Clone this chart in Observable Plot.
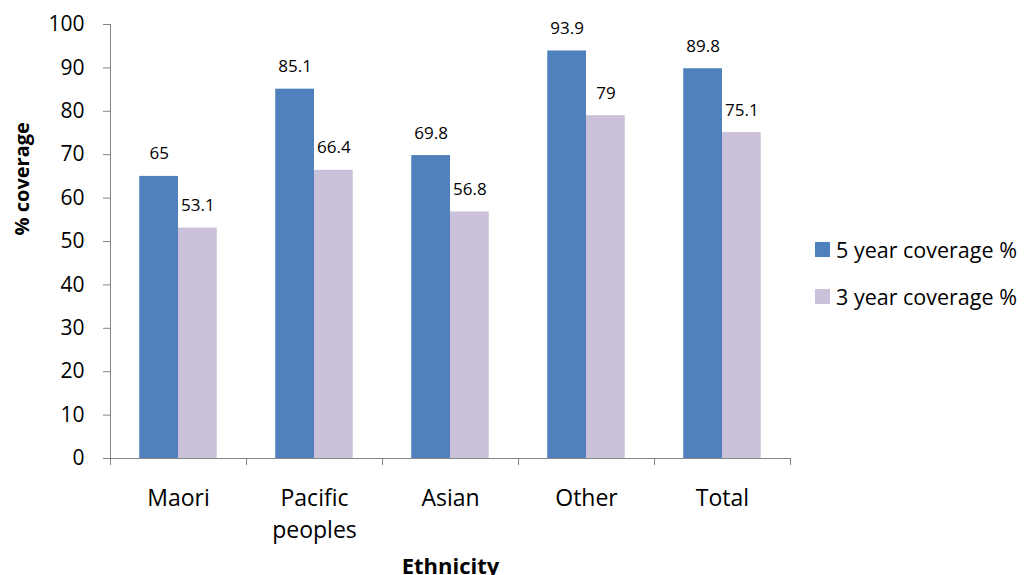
<!DOCTYPE html>
<html>
<head>
<meta charset="utf-8">
<script src="https://cdn.jsdelivr.net/npm/d3@7"></script>
<script src="https://cdn.jsdelivr.net/npm/@observablehq/plot@0.6"></script>
<style>
  html, body { margin: 0; padding: 0; background: #ffffff; }
  #chart { position: relative; width: 1034px; height: 575px; font-family: "Open Sans", sans-serif; color: #000; }
  #chart svg { display: block; overflow: visible; }
  .legend { position: absolute; left: 815px; top: 0; }
  .legend .row { position: absolute; left: 0; height: 30px; display: flex; align-items: center; white-space: nowrap; font-size: 21.5px; }
  .legend .swatch { width: 15px; height: 15px; margin-right: 6px; flex: none; }
</style>
</head>
<body>
<div id="chart"></div>
<script>
// Immunisation coverage by ethnicity
const categories = ["Maori", "Pacific peoples", "Asian", "Other", "Total"];
const categoryLabels = ["Maori", "Pacific\npeoples", "Asian", "Other", "Total"];
const series = ["5 year coverage %", "3 year coverage %"];
const fiveYear = [65, 85.1, 69.8, 93.9, 89.8];
const threeYear = [53.1, 66.4, 56.8, 79, 75.1];
const yTicks = [0, 10, 20, 30, 40, 50, 60, 70, 80, 90, 100];
const colors = ["#4F81BD", "#CCC1DA"];

const width = 1034, height = 575;
const margin = {top: 24, right: 244, bottom: 117, left: 110};
const plotWidth = width - margin.left - margin.right;
const half = plotWidth / categories.length / 2;   // half a category band
const barW = 38.75;                                 // width of one bar
const gap = half - barW;                            // outer space on each side of a bar pair
const axisGray = "#868686";

const fiveRows = categories.map((c, i) => ({category: c, series: series[0], value: fiveYear[i]}));
const threeRows = categories.map((c, i) => ({category: c, series: series[1], value: threeYear[i]}));

const chart = Plot.plot({
  width, height,
  marginTop: margin.top, marginRight: margin.right,
  marginBottom: margin.bottom, marginLeft: margin.left,
  style: {fontFamily: "Open Sans, sans-serif", fontSize: "21px", color: "#000", background: "#fff", overflow: "visible"},
  x: {domain: categories, paddingInner: 0, paddingOuter: 0, axis: null},
  y: {domain: [0, 100]},
  color: {domain: series, range: colors},
  marks: [
    Plot.axisY({ticks: yTicks, tickSize: 7, tickPadding: 19, fontSize: 21, stroke: axisGray, fill: "#000", label: null}),
    // bars: 5 year on the left half of the pair, 3 year on the right
    Plot.barY(fiveRows, {x: "category", y: "value", fill: "series", insetLeft: gap, insetRight: half}),
    Plot.barY(threeRows, {x: "category", y: "value", fill: "series", insetLeft: half, insetRight: gap}),
    // value labels above each bar
    Plot.text(fiveRows, {x: "category", y: "value", text: "value", dx: -barW / 2, dy: -17, lineAnchor: "bottom", fontSize: 17, fill: "#000"}),
    Plot.text(threeRows, {x: "category", y: "value", text: "value", dx: barW / 2, dy: -17, lineAnchor: "bottom", fontSize: 17, fill: "#000"}),
    // axis lines
    Plot.ruleY([0], {stroke: axisGray}),
    Plot.ruleX([categories[0]], {x: d => d, dx: -half, stroke: axisGray}),
    // category boundary ticks below the x axis
    Plot.ruleX(categories, {x: d => d, y1: 0, y2: 0, dx: -half, insetBottom: -7, stroke: axisGray}),
    Plot.ruleX([categories[categories.length - 1]], {x: d => d, y1: 0, y2: 0, dx: half, insetBottom: -7, stroke: axisGray}),
    // category labels
    Plot.text(categories, {x: d => d, text: (d, i) => categoryLabels[i], frameAnchor: "bottom", lineAnchor: "top", dy: 25, fontSize: 23, lineHeight: 1.38, fill: "#000"}),
    // axis titles
    Plot.text(["% coverage"], {text: d => d, frameAnchor: "left", dx: -88, dy: -6, rotate: -90, fontWeight: "bold", fontSize: 20, fill: "#000"}),
    Plot.text(["Ethnicity"], {text: d => d, frameAnchor: "bottom", lineAnchor: "bottom", dy: 115, fontWeight: "bold", fontSize: 22, fill: "#000"})
  ]
});

const root = document.getElementById("chart");
root.appendChild(chart);

// legend on the right
const legend = document.createElement("div");
legend.className = "legend";
series.forEach((s, i) => {
  const row = document.createElement("div");
  row.className = "row";
  row.style.top = (249.5 + i * 46.5 - 15) + "px";
  const sw = document.createElement("span");
  sw.className = "swatch";
  sw.style.background = colors[i];
  const label = document.createElement("span");
  label.textContent = s;
  row.appendChild(sw);
  row.appendChild(label);
  legend.appendChild(row);
});
root.appendChild(legend);
</script>
</body>
</html>
